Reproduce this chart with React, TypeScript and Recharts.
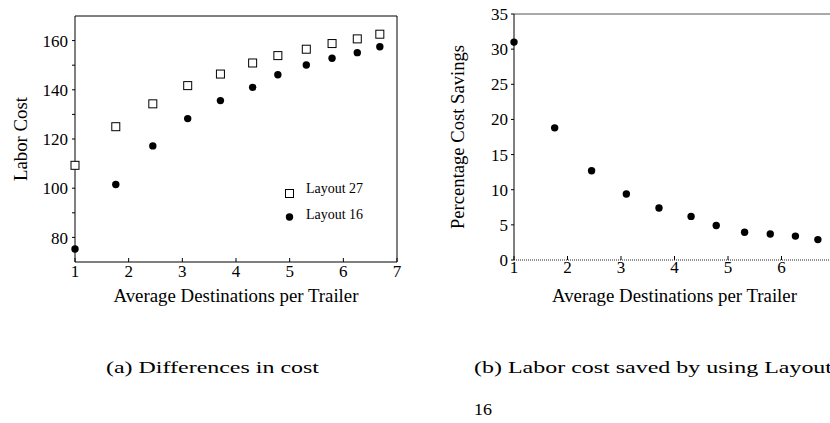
import React from "react";
import { ScatterChart, Scatter, XAxis, YAxis, ReferenceLine, Label } from "recharts";

// average destinations per trailer (x), shared by both panels
const destinations = [1, 1.76, 2.45, 3.1, 3.71, 4.31, 4.78, 5.31, 5.79, 6.26, 6.68];
const layout27Cost = [109.3, 125.0, 134.3, 141.7, 146.4, 150.9, 153.9, 156.5, 158.8, 160.7, 162.6];
const layout16Cost = [75.3, 101.5, 117.2, 128.3, 135.6, 141.0, 146.1, 150.1, 152.8, 155.1, 157.5];
const savingsPct = [31.0, 18.8, 12.7, 9.4, 7.4, 6.2, 4.9, 3.95, 3.7, 3.4, 2.9];

const costXTicks = [1, 2, 3, 4, 5, 6, 7];
const savingsXTicks = [1, 2, 3, 4, 5, 6];
const costTicks = [80, 90, 100, 110, 120, 130, 140, 150, 160];
const costLabelTicks = [80, 100, 120, 140, 160];
const savingsTicks = [0, 5, 10, 15, 20, 25, 30, 35];

const seriesNames = ["Layout 27", "Layout 16"];
const xTitle = "Average Destinations per Trailer";
const captionA = "(a) Differences in cost";
const captionB = ["(b) Labor cost saved by using Layout", "16"];

const FONT = "Liberation Serif, serif";

const l27 = destinations.map((x, i) => ({ x, y: layout27Cost[i] }));
const l16 = destinations.map((x, i) => ({ x, y: layout16Cost[i] }));
const savings = destinations.map((x, i) => ({ x, y: savingsPct[i] }));

const Square = (p: any) => (
  <rect x={p.cx - 4} y={p.cy - 4} width={8} height={8} fill="#fff" stroke="#000" strokeWidth={1} />
);
const Dot = (p: any) => <circle cx={p.cx} cy={p.cy} r={3.7} fill="#000" />;

function CostTick(p: any) {
  if (!costLabelTicks.includes(p.payload.value)) return <g />;
  return (
    <text x={p.x} y={p.y} dy="0.36em" textAnchor="end" style={{ fontSize: 17, fontFamily: FONT }} fill="#000">
      {p.payload.value}
    </text>
  );
}

function yTitle(text: string, dx: number, len: number) {
  return ({ viewBox }: any) => {
    const x = viewBox.x + dx;
    const y = viewBox.y + viewBox.height / 2;
    return (
      <text x={x} y={y} transform={`rotate(-90, ${x}, ${y})`} textAnchor="middle" dominantBaseline="central"
        textLength={len} lengthAdjust="spacingAndGlyphs" style={{ fontSize: 19, fontFamily: FONT }} fill="#000">
        {text}
      </text>
    );
  };
}

function xTitleLabel({ viewBox }: any) {
  const x = viewBox.x + viewBox.width / 2;
  return (
    <text x={x} y={302} textAnchor="middle" textLength={245} lengthAdjust="spacingAndGlyphs"
      style={{ fontSize: 19, fontFamily: FONT }} fill="#000">
      {xTitle}
    </text>
  );
}

const tickStyle = { fontSize: 17, fontFamily: FONT, fill: "#000" };

export default function App() {
  return (
    <div style={{ position: "absolute", left: 0, top: 0, width: 830, height: 423, overflow: "hidden", background: "#fff" }}>
      <svg width={830} height={423} style={{ position: "absolute", left: 0, top: 0 }}>
        <g style={{ fontSize: 17.5, fontFamily: FONT }} fill="#000">
          <text x={106} y={373} textLength={213} lengthAdjust="spacingAndGlyphs">{captionA}</text>
          <text x={474} y={373} textLength={358} lengthAdjust="spacingAndGlyphs">{captionB[0]}</text>
          <text x={474} y={415} textLength={18} lengthAdjust="spacingAndGlyphs">{captionB[1]}</text>
        </g>
      </svg>

      <div style={{ position: "absolute", left: 0, top: 0 }}>
        <ScatterChart width={410} height={320} margin={{ top: 16, right: 13, bottom: 0, left: 0 }}>
          <XAxis type="number" dataKey="x" domain={[1, 7]} ticks={costXTicks}
            height={58} tickSize={-4} tickMargin={7} tick={tickStyle}
            axisLine={{ stroke: "#000" }} tickLine={{ stroke: "#000" }}>
            <Label content={xTitleLabel} />
          </XAxis>
          <YAxis type="number" dataKey="y" domain={[70, 170]} ticks={costTicks}
            width={75} tickSize={3} tickMargin={4} tick={<CostTick />}
            axisLine={{ stroke: "#000" }} tickLine={{ stroke: "#000" }}>
            <Label content={yTitle("Labor Cost", 20, 84)} />
          </YAxis>
          <ReferenceLine y={170} stroke="#000" />
          <ReferenceLine x={7} stroke="#000" />
          <Scatter name={seriesNames[0]} data={l27} shape={<Square />} isAnimationActive={false} />
          <Scatter name={seriesNames[1]} data={l16} shape={<Dot />} isAnimationActive={false} />
        </ScatterChart>
      </div>

      {/* legend drawn outside the chart so it does not eat plot height */}
      <svg width={90} height={50} style={{ position: "absolute", left: 283, top: 176 }}>
        <g style={{ fontSize: 14, fontFamily: FONT }} fill="#000">
          <rect x={2.5} y={13.5} width={8} height={8} fill="#fff" stroke="#000" />
          <text x={23} y={17} textLength={57} lengthAdjust="spacingAndGlyphs">{seriesNames[0]}</text>
          <circle cx={6.5} cy={41} r={3.7} fill="#000" />
          <text x={23} y={43} textLength={57} lengthAdjust="spacingAndGlyphs">{seriesNames[1]}</text>
        </g>
      </svg>

      <div style={{ position: "absolute", left: 420, top: 0 }}>
        <ScatterChart width={430} height={320} margin={{ top: 14, right: 15, bottom: 0, left: 0 }}>
          <XAxis type="number" dataKey="x" domain={[1, 7]} ticks={savingsXTicks}
            height={60} tickSize={-4} tickMargin={5} tick={tickStyle}
            axisLine={{ stroke: "#222", strokeDasharray: "1 1" }} tickLine={{ stroke: "#000" }}>
            <Label content={xTitleLabel} />
          </XAxis>
          <YAxis type="number" dataKey="y" domain={[0, 35]} ticks={savingsTicks}
            width={94} tickSize={3} tickMargin={3} tick={tickStyle}
            axisLine={{ stroke: "#000" }} tickLine={{ stroke: "#000" }}>
            <Label content={yTitle("Percentage Cost Savings", 37, 184)} />
          </YAxis>
          <ReferenceLine y={35} stroke="#555" />
          <Scatter name="Savings" data={savings} shape={<Dot />} isAnimationActive={false} />
        </ScatterChart>
      </div>
    </div>
  );
}
